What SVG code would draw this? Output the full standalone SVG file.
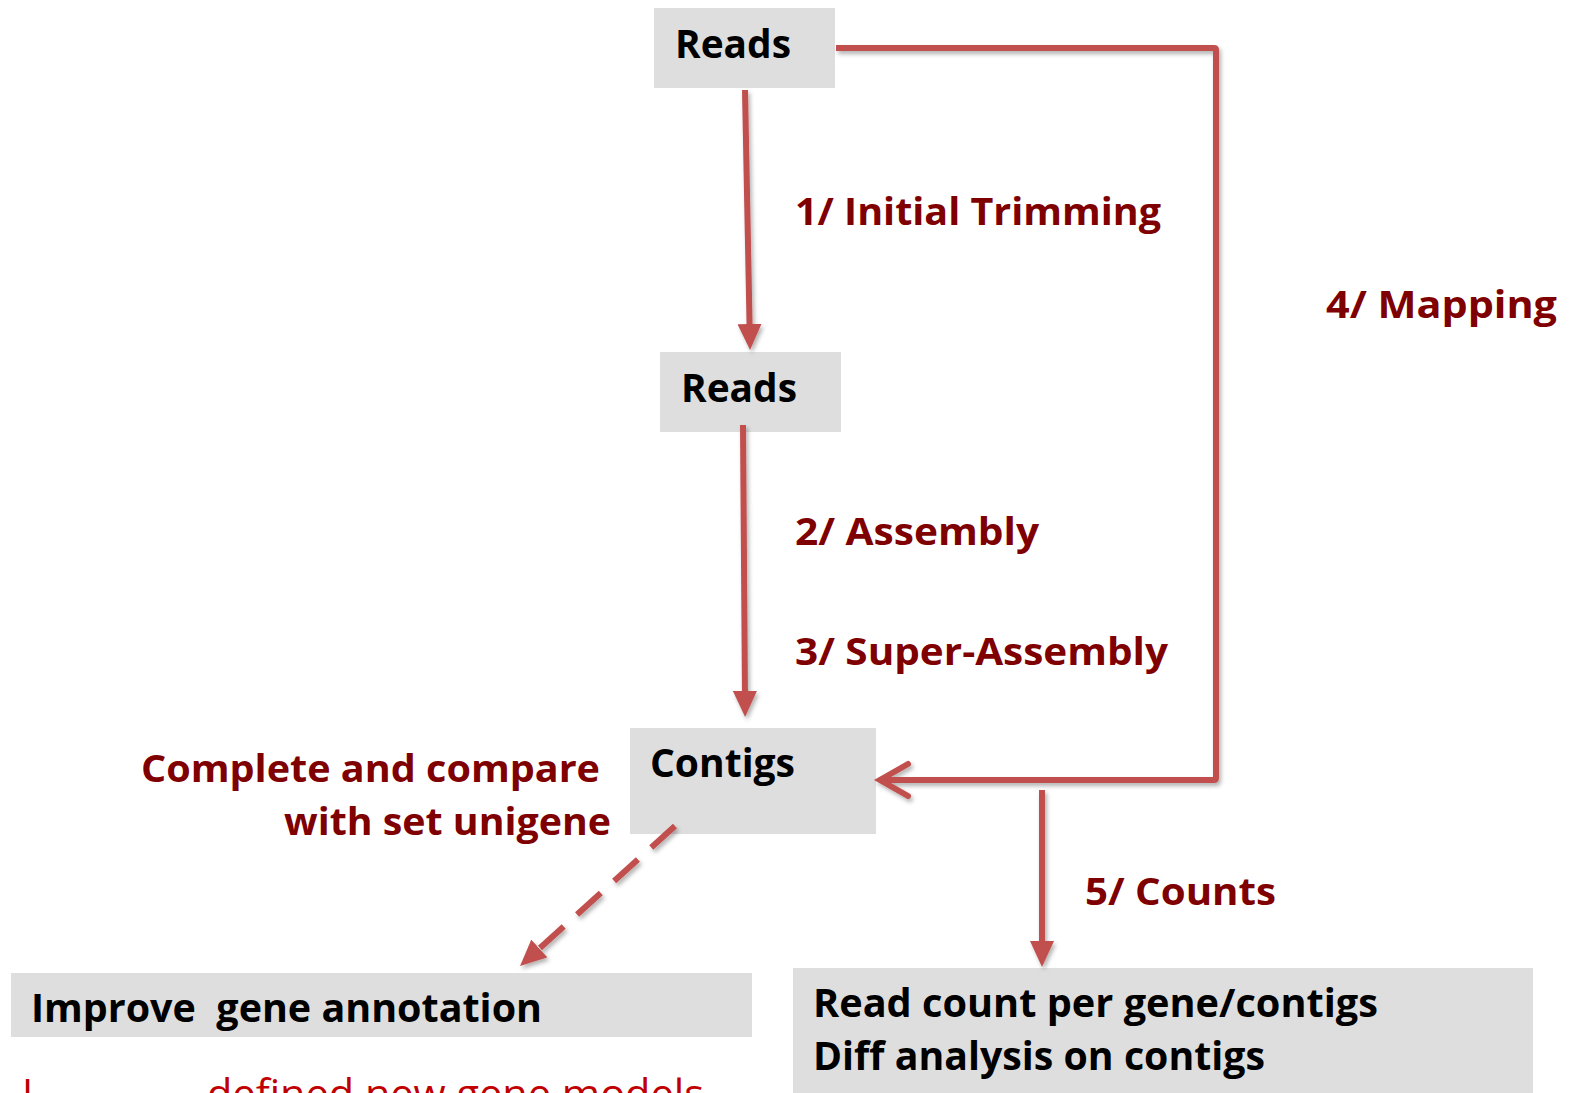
<svg xmlns="http://www.w3.org/2000/svg" width="1571" height="1093" viewBox="0 0 1571 1093">
  <style>
    .box { fill: #dedede; }
    .node-text { font-family: "Open Sans", Lato, "Liberation Sans", sans-serif; font-weight: bold; font-size: 39px; fill: #000000; }
    .label { font-family: "Open Sans", Lato, "Liberation Sans", sans-serif; font-weight: bold; font-size: 37px; fill: #7f0000; }
    .note { font-family: "Open Sans", Lato, "Liberation Sans", sans-serif; font-size: 40px; fill: #c00000; }
    .link { fill: none; stroke: #c0504d; stroke-width: 6; }
  </style>
  <defs>
    <filter id="shadow" x="-10%" y="-10%" width="130%" height="130%">
      <feDropShadow dx="2" dy="3" stdDeviation="2" flood-color="#000000" flood-opacity="0.3"/>
    </filter>
    <marker id="head" markerUnits="userSpaceOnUse" markerWidth="26" markerHeight="24" refX="8" refY="12" orient="auto">
      <path d="M0,0 L26,12 L0,24 z" fill="#c0504d"/>
    </marker>
  </defs>

  <rect width="1571" height="1093" fill="#ffffff"/>

  <!-- nodes -->
  <g id="reads-raw">
    <rect class="box" x="654" y="8" width="181" height="80"/>
    <text class="node-text" x="675" y="58" textLength="116" lengthAdjust="spacingAndGlyphs">Reads</text>
  </g>
  <g id="reads-trimmed">
    <rect class="box" x="660" y="352" width="181" height="80"/>
    <text class="node-text" x="681" y="402" textLength="116" lengthAdjust="spacingAndGlyphs">Reads</text>
  </g>
  <g id="contigs">
    <rect class="box" x="630" y="728" width="246" height="106"/>
    <text class="node-text" x="650" y="777" textLength="145" lengthAdjust="spacingAndGlyphs">Contigs</text>
  </g>
  <g id="annotation">
    <rect class="box" x="11" y="973" width="741" height="64"/>
    <text class="node-text" x="31" y="1022" textLength="511" lengthAdjust="spacingAndGlyphs" xml:space="preserve">Improve  gene annotation</text>
  </g>
  <g id="read-counts">
    <rect class="box" x="793" y="968" width="740" height="125"/>
    <text class="node-text" x="813" y="1017" textLength="565" lengthAdjust="spacingAndGlyphs">Read count per gene/contigs</text>
    <text class="node-text" x="813" y="1070" textLength="452" lengthAdjust="spacingAndGlyphs">Diff analysis on contigs</text>
  </g>

  <!-- connectors -->
  <g id="connectors" filter="url(#shadow)">
    <line class="link" x1="745" y1="90" x2="749.7" y2="332" marker-end="url(#head)"/>
    <line class="link" x1="743" y1="425" x2="745" y2="699" marker-end="url(#head)"/>
    <path class="link" d="M836,48 H1214 Q1216,48 1216,50 V778 Q1216,780 1214,780 H882"/>
    <polyline class="link" points="908,764 880,780 908,796" stroke-linecap="round"/>
    <line class="link" x1="1042" y1="790" x2="1042" y2="949" marker-end="url(#head)"/>
    <line class="link" x1="675" y1="826" x2="533.4" y2="953.9" stroke-dasharray="32 18" marker-end="url(#head)"/>
  </g>

  <!-- step labels -->
  <g id="labels">
    <text class="label" x="795" y="225" textLength="366" lengthAdjust="spacingAndGlyphs">1/ Initial Trimming</text>
    <text class="label" x="1326" y="318" textLength="231" lengthAdjust="spacingAndGlyphs">4/ Mapping</text>
    <text class="label" x="795" y="545" textLength="244" lengthAdjust="spacingAndGlyphs">2/ Assembly</text>
    <text class="label" x="795" y="665" textLength="373" lengthAdjust="spacingAndGlyphs">3/ Super-Assembly</text>
    <text class="label" x="141" y="782" textLength="459" lengthAdjust="spacingAndGlyphs">Complete and compare</text>
    <text class="label" x="284" y="835" textLength="327" lengthAdjust="spacingAndGlyphs">with set unigene</text>
    <text class="label" x="1085" y="905" textLength="191" lengthAdjust="spacingAndGlyphs">5/ Counts</text>
  </g>

  <!-- note running off the bottom edge -->
  <g id="note">
    <text class="note" x="22" y="1108">I</text>
    <text class="note" x="207" y="1108" textLength="497" lengthAdjust="spacingAndGlyphs">defined new gene models</text>
  </g>
</svg>
